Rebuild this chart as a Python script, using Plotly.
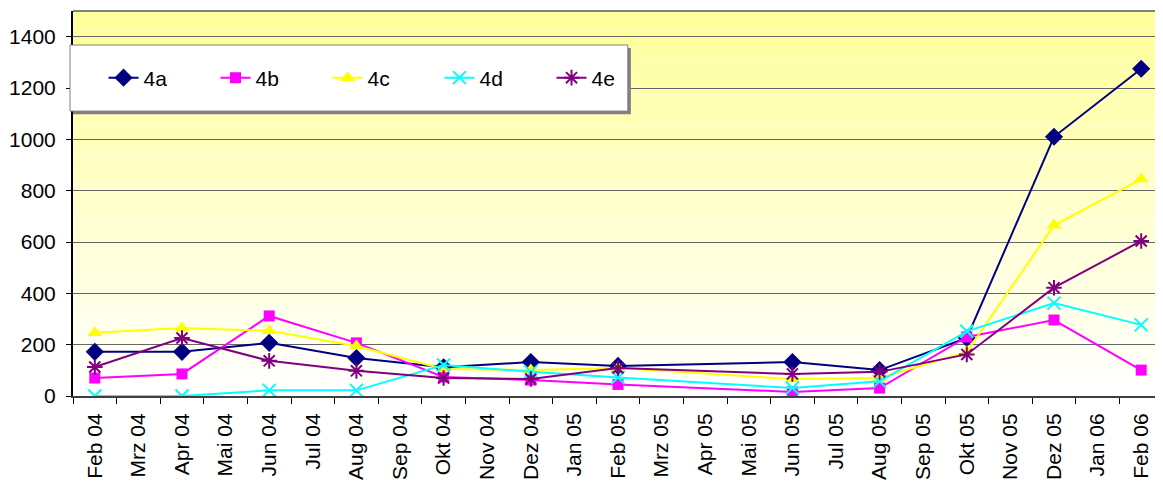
import plotly.graph_objects as go

months = ["Feb 04", "Mrz 04", "Apr 04", "Mai 04", "Jun 04", "Jul 04", "Aug 04", "Sep 04",
          "Okt 04", "Nov 04", "Dez 04", "Jan 05", "Feb 05", "Mrz 05", "Apr 05", "Mai 05",
          "Jun 05", "Jul 05", "Aug 05", "Sep 05", "Okt 05", "Nov 05", "Dez 05", "Jan 06", "Feb 06"]

# measurement months
x_pts = ["Feb 04", "Apr 04", "Jun 04", "Aug 04", "Okt 04", "Dez 04", "Feb 05",
         "Jun 05", "Aug 05", "Okt 05", "Dez 05", "Feb 06"]

s4a = [172, 172, 207, 148, 112, 132, 117, 132, 101, 226, 1010, 1275]
s4b = [70, 86, 312, 207, 74, 62, 45, 16, 31, 230, 296, 101]
s4c = [246, 265, 254, 195, 105, 101, 109, 66, 70, 172, 665, 845]
s4d = [0, 0, 22, 22, 121, 94, 72, 31, 57, 252, 362, 277]
s4e = [113, 226, 137, 98, 70, 66, 109, 86, 94, 162, 422, 604]

y_ticks = [0, 200, 400, 600, 800, 1000, 1200, 1400]

series = [
    ("4a", s4a, "#000080", "diamond", 14, 0),
    ("4b", s4b, "#FF00FF", "square", 11, 0),
    ("4c", s4c, "#FFFF00", "triangle-up", 13, 0),
    ("4d", s4d, "#00FFFF", "x-thin-open", 13, 2),
    ("4e", s4e, "#800080", "asterisk-open", 13, 2),
]

fig = go.Figure()
for name, vals, col, sym, size, lw in series:
    marker = dict(symbol=sym, size=size, color=col)
    if lw:
        marker["line"] = dict(color=col, width=lw)
    fig.add_trace(go.Scatter(
        x=x_pts, y=vals, name=name, mode="lines+markers",
        line=dict(color=col, width=2), marker=marker,
    ))

# gradient background (yellow at top to white at bottom)
n = 60
shapes = []
for i in range(n):
    t = i / (n - 1)  # 0 bottom -> 1 top
    b = int(round(255 - (255 - 0x99) * t))
    shapes.append(dict(type="rect", xref="x domain", yref="y domain",
                       x0=0, x1=1, y0=i / n, y1=(i + 1) / n,
                       fillcolor=f"rgb(255,255,{b})", line=dict(width=0), layer="below"))
# top border of plot area
shapes.append(dict(type="line", xref="x domain", yref="y domain", x0=0, x1=1, y0=1, y1=1,
                   line=dict(color="#808080", width=2)))
# legend box with shadow
shapes.append(dict(type="rect", xref="paper", yref="paper",
                   x0=0.0, x1=0.5118, y0=0.732, y1=0.904,
                   fillcolor="#808080", line=dict(width=0), layer="above"))
shapes.append(dict(type="rect", xref="paper", yref="paper",
                   x0=-0.00275, x1=0.509, y0=0.740, y1=0.9117,
                   fillcolor="white", line=dict(color="#808080", width=1), layer="above"))

# page body has an 8px margin, so the figure is sized to fit the 1163x481 window
fig.update_layout(
    width=1155, height=473,
    margin=dict(l=65, r=0, t=3, b=85, autoexpand=False),
    paper_bgcolor="white",
    plot_bgcolor="white",
    font=dict(family="Liberation Sans, Arial, sans-serif", size=21, color="black"),
    shapes=shapes,
    showlegend=True,
    legend=dict(orientation="h", x=0.028, y=0.826, xanchor="left", yanchor="middle",
                bgcolor="rgba(0,0,0,0)", borderwidth=0,
                font=dict(size=21), entrywidth=67, entrywidthmode="pixels"),
    xaxis=dict(type="category", categoryorder="array", categoryarray=months,
               range=[-0.5, 24.5], tickmode="array", tickvals=months, ticktext=months,
               tickangle=-90, tickson="boundaries", ticks="outside", ticklen=6,
               tickcolor="black", showgrid=False, showline=True, linecolor="#404040",
               linewidth=2, zeroline=False, tickfont=dict(size=21), automargin=False,
               ticklabelstandoff=7),
    yaxis=dict(range=[0, 1500], tickmode="array", tickvals=y_ticks,
               ticks="outside", ticklen=5, tickcolor="black",
               showgrid=True, gridcolor="#666666", gridwidth=1,
               showline=True, linecolor="black", linewidth=2, zeroline=False,
               tickfont=dict(size=21), automargin=False, ticklabelstandoff=6),
)

fig.write_html("out.html")
